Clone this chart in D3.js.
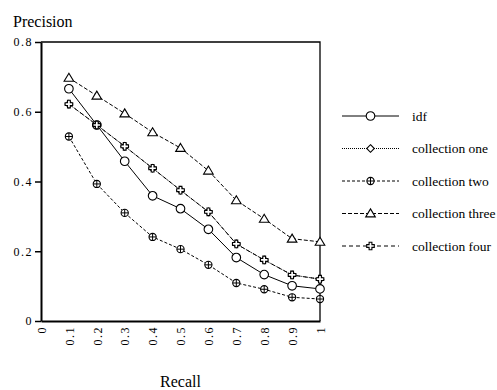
<!DOCTYPE html>
<html>
<head>
<meta charset="utf-8">
<script src="https://cdn.jsdelivr.net/npm/d3@7"></script>
<style>
  body { margin: 0; background: #fff; }
  svg text { font-family: "Liberation Serif", "Times New Roman", serif; fill: #000; }
</style>
</head>
<body>
<div id="chart"></div>
<script>
// recall levels on the x axis
const recall = [0.1, 0.2, 0.3, 0.4, 0.5, 0.6, 0.7, 0.8, 0.9, 1.0];

// precision per series
const idf = [0.666, 0.562, 0.458, 0.359, 0.322, 0.263, 0.182, 0.133, 0.101, 0.092];
const collectionOne = [0.622, 0.562, 0.501, 0.438, 0.375, 0.313, 0.221, 0.175, 0.132, 0.120];
const collectionTwo = [0.529, 0.393, 0.310, 0.241, 0.206, 0.161, 0.109, 0.091, 0.068, 0.063];
const collectionThree = [0.697, 0.646, 0.595, 0.541, 0.496, 0.431, 0.346, 0.293, 0.236, 0.227];
const collectionFour = [0.622, 0.562, 0.501, 0.438, 0.375, 0.313, 0.221, 0.175, 0.132, 0.120];

const seriesNames = ['idf', 'collection one', 'collection two', 'collection three', 'collection four'];

const xTicks = [0, 0.1, 0.2, 0.3, 0.4, 0.5, 0.6, 0.7, 0.8, 0.9, 1];
const yTicks = [0, 0.2, 0.4, 0.6, 0.8];

const series = [
  {name: seriesNames[0], values: idf, dash: null, marker: 'circle'},
  {name: seriesNames[1], values: collectionOne, dash: '1,1', marker: 'diamond'},
  {name: seriesNames[2], values: collectionTwo, dash: '3,2', marker: 'circleplus'},
  {name: seriesNames[3], values: collectionThree, dash: '4,2', marker: 'triangle'},
  {name: seriesNames[4], values: collectionFour, dash: '4,3', marker: 'cross'}
];

const W = 497, H = 390;
const margin = {top: 42, right: 177, bottom: 69, left: 41};

const svg = d3.select('#chart').append('svg')
  .attr('width', W)
  .attr('height', H)
  .attr('font-family', '"Liberation Serif", serif');

const x = d3.scaleLinear().domain([0, 1]).range([margin.left, W - margin.right]);
const y = d3.scaleLinear().domain([0, 0.8]).range([H - margin.bottom, margin.top]);

// frame (top and right)
svg.append('path')
  .attr('d', `M${x(0)},${y(0.8)}H${x(1)}V${y(0)}`)
  .attr('fill', 'none')
  .attr('stroke', '#000')
  .attr('stroke-width', 1.3);

// y axis
const yAxis = svg.append('g')
  .attr('transform', `translate(${x(0)},0)`)
  .call(d3.axisLeft(y).tickValues(yTicks).tickSize(6).tickSizeOuter(0).tickFormat(d => d === 0 ? '0' : d3.format('.1f')(d)));
yAxis.attr('font-family', null);
yAxis.select('.domain').attr('stroke-width', 2);
yAxis.selectAll('.tick line').attr('stroke-width', 1.5);
yAxis.selectAll('text').attr('font-size', 12).attr('x', -8)
  .style('letter-spacing', '1.5px');

// x axis (no tick marks, vertical labels reading upward)
const xAxis = svg.append('g')
  .attr('transform', `translate(0,${y(0)})`)
  .call(d3.axisBottom(x).tickValues(xTicks).tickSize(0).tickSizeOuter(0).tickFormat(d => d === 0 || d === 1 ? String(d) : d3.format('.1f')(d)));
xAxis.attr('font-family', null);
xAxis.select('.domain').attr('stroke-width', 2);
xAxis.selectAll('text')
  .attr('font-size', 12)
  .attr('transform', 'rotate(-90)')
  .attr('x', -5)
  .attr('y', 0)
  .attr('dy', '0.35em')
  .attr('text-anchor', 'end')
  .style('letter-spacing', '1.5px');

// axis titles
svg.append('text').attr('x', 13).attr('y', 27).attr('font-size', 16).text('Precision');
svg.append('text').attr('x', (x(0) + x(1)) / 2).attr('y', 387).attr('font-size', 16)
  .attr('text-anchor', 'middle').text('Recall');

function drawMarker(g, type) {
  const s = {fill: '#fff', stroke: '#000', 'stroke-width': 1.1};
  let el;
  if (type === 'circle') {
    el = g.append('circle').attr('r', 4.3);
  } else if (type === 'diamond') {
    el = g.append('path').attr('d', 'M0,-3.8L3.8,0L0,3.8L-3.8,0Z');
  } else if (type === 'circleplus') {
    el = g.append('circle').attr('r', 3.6);
    Object.entries(s).forEach(([k, v]) => el.attr(k, v));
    g.append('path').attr('d', 'M-3.6,0H3.6M0,-3.6V3.6').attr('stroke', '#000').attr('stroke-width', 1);
    return;
  } else if (type === 'triangle') {
    el = g.append('path').attr('d', 'M0,-4.6L4.8,3.4L-4.8,3.4Z');
  } else if (type === 'cross') {
    const a = 1.4, b = 3.8;
    el = g.append('path').attr('d', `M${-a},${-b}H${a}V${-a}H${b}V${a}H${a}V${b}H${-a}V${a}H${-b}V${-a}H${-a}Z`);
  }
  Object.entries(s).forEach(([k, v]) => el.attr(k, v));
}

const line = d3.line().x((d, i) => x(recall[i])).y(d => y(d));

series.forEach(s => {
  svg.append('path')
    .datum(s.values)
    .attr('d', line)
    .attr('fill', 'none')
    .attr('stroke', '#000')
    .attr('stroke-width', 1)
    .attr('stroke-dasharray', s.dash);
});

series.forEach(s => {
  s.values.forEach((v, i) => {
    const g = svg.append('g').attr('transform', `translate(${x(recall[i])},${y(v)})`);
    drawMarker(g, s.marker);
  });
});

// legend
const legend = svg.append('g');
series.forEach((s, i) => {
  const ly = 116 + i * 32.5;
  legend.append('line')
    .attr('x1', 342).attr('x2', 399).attr('y1', ly).attr('y2', ly)
    .attr('stroke', '#000').attr('stroke-width', 1)
    .attr('stroke-dasharray', s.dash);
  const g = legend.append('g').attr('transform', `translate(370.5,${ly})`);
  drawMarker(g, s.marker);
  legend.append('text').attr('x', 412).attr('y', ly).attr('dy', '0.35em')
    .attr('font-size', 13.5).text(s.name);
});
</script>
</body>
</html>
